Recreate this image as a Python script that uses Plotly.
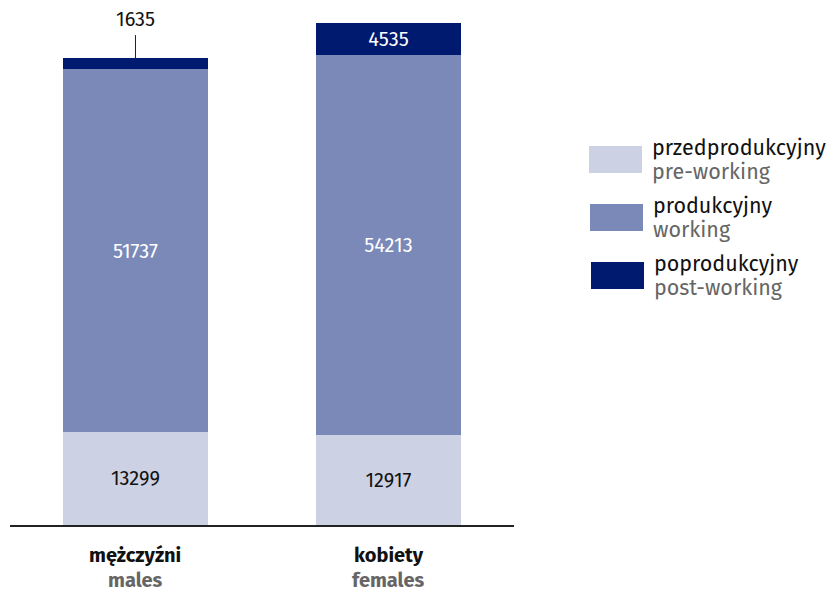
import plotly.graph_objects as go

# Population by economic age group, by sex
categories = ["mężczyźni", "kobiety"]
categories_en = ["males", "females"]
pre_working = [13299, 12917]
working = [51737, 54213]
post_working = [1635, 4535]

group_pl = ["przedprodukcyjny", "produkcyjny", "poprodukcyjny"]
group_en = ["pre-working", "working", "post-working"]

colors = ["#ccd1e4", "#7a89b8", "#001a70"]
text_colors = ["#111111", "#ffffff", "#ffffff"]
FONT = "Fira Sans, Noto Sans, sans-serif"
GREY = "#666666"

# plot area geometry (pixels) used to place paper-referenced items
L, T, W, H = 10, 10, 504, 515


def px(x):
    return (x - L) / W


def py(y):
    return (T + H - y) / H


x_pos = [0, 1]
series = [pre_working, working, post_working]

fig = go.Figure()
for i, vals in enumerate(series):
    # the small male post-working segment is labelled outside with a leader line
    labels = ["" if v < 3000 else str(v) for v in vals]
    fig.add_trace(go.Bar(
        x=x_pos, y=vals, name=group_pl[i],
        marker=dict(color=colors[i], line=dict(width=0)),
        text=labels, textposition="inside", insidetextanchor="middle",
        textfont=dict(family=FONT, size=20, color=text_colors[i]),
        constraintext="none", width=0.571, showlegend=False,
        hoverinfo="skip",
    ))

# outside label for small segments
for j, v in enumerate(post_working):
    if v < 3000:
        total = pre_working[j] + working[j] + post_working[j]
        fig.add_shape(type="line", xref="x", yref="y",
                      x0=x_pos[j], x1=x_pos[j], y0=total, y1=total + 3280,
                      line=dict(color="#222222", width=1))
        fig.add_annotation(x=x_pos[j], y=total + 3300, xref="x", yref="y",
                           text=str(v), showarrow=False, yanchor="bottom",
                           yshift=2,
                           font=dict(family=FONT, size=20, color="#111111"))

# two-line category labels
for j, (pl, en) in enumerate(zip(categories, categories_en)):
    fig.add_annotation(x=x_pos[j], y=py(555), xref="x", yref="paper",
                       text=f"<b>{pl}</b>", showarrow=False, yanchor="middle",
                       font=dict(family=FONT, size=20, color="#111111"))
    fig.add_annotation(x=x_pos[j], y=py(580), xref="x", yref="paper",
                       text=f"<b>{en}</b>", showarrow=False, yanchor="middle",
                       font=dict(family=FONT, size=20, color=GREY))

# custom legend with large swatches
leg_y = [159.5, 217.5, 275.5]
for i in range(3):
    fig.add_shape(type="rect", xref="paper", yref="paper",
                  x0=px(589 + i), x1=px(642 + i),
                  y0=py(leg_y[i] + 13.5), y1=py(leg_y[i] - 13.5),
                  fillcolor=colors[i], line=dict(width=0))
    fig.add_annotation(x=px(650 + i), y=py(leg_y[i] - 12),
                       xref="paper", yref="paper", xanchor="left", yanchor="middle",
                       text=group_pl[i], showarrow=False,
                       font=dict(family=FONT, size=21.5, color="#111111"))
    fig.add_annotation(x=px(650 + i), y=py(leg_y[i] + 12),
                       xref="paper", yref="paper", xanchor="left", yanchor="middle",
                       text=group_en[i], showarrow=False,
                       font=dict(family=FONT, size=21.5, color=GREY))

fig.update_layout(
    width=829, height=595,
    margin=dict(l=L, r=829 - L - W, t=T, b=595 - T - H),
    barmode="stack",
    plot_bgcolor="white", paper_bgcolor="white",
    xaxis=dict(range=[-0.496, 1.496], showticklabels=False, showgrid=False,
               zeroline=False, showline=True, linecolor="#222222", linewidth=1.5,
               ticks=""),
    yaxis=dict(range=[0, 73530], visible=False, showgrid=False),
)

fig.write_html("out.html")
